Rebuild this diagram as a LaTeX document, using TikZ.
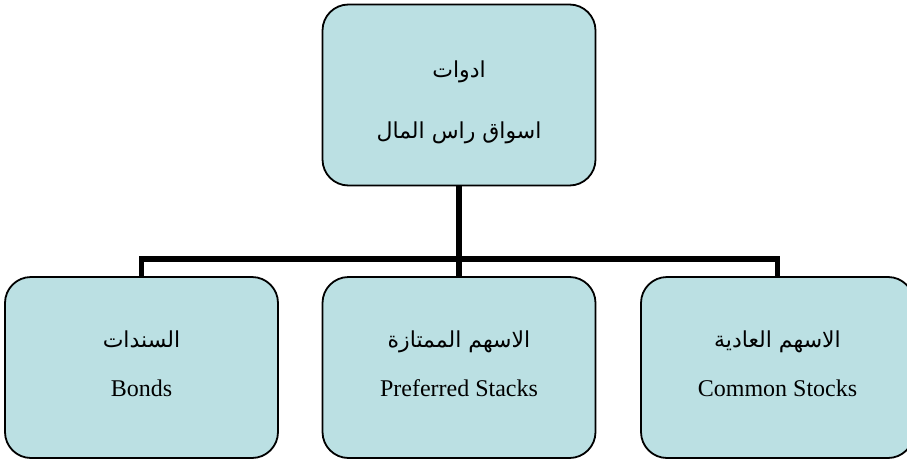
\documentclass[tikz,border=0pt]{standalone}
\usepackage{fontspec}
\setmainfont{Liberation Serif}
\newfontfamily\arabicfont[Script=Arabic]{DejaVu Sans}
\TeXXeTstate=1
% right-to-left Arabic run
\newcommand{\artext}[1]{{\arabicfont\beginR #1\endR}}
\definecolor{boxfill}{HTML}{BBE0E3}
\begin{document}
\begin{tikzpicture}[x=1pt,y=-1pt,
  box/.style={draw=black, line width=1.8pt, fill=boxfill, rounded corners=26pt,
    minimum width=273pt, minimum height=181pt, inner sep=0pt},
  arlabel/.style={anchor=base, inner sep=0pt, font=\fontsize{22}{26}\selectfont},
  enlabel/.style={anchor=base, inner sep=0pt, font=\fontsize{24}{29}\selectfont},
  link/.style={draw=black, line width=5.5pt, line join=miter}]
\useasboundingbox (0,0) rectangle (907,463);

% the root box and the three branches
\node[box] (root) at (459,95) {};
\node[box] (bonds) at (141.5,367.5) {};
\node[box] (pref) at (459,367.5) {};
\node[box] (common) at (777.5,367.5) {};

% box texts
\node[arlabel] (root1) at (459,77) {\artext{ادوات}};
\node[arlabel] (root2) at (459,138) {\artext{اسواق راس المال}};
\node[arlabel] (bonds1) at (141.5,347) {\artext{السندات}};
\node[enlabel] (bonds2) at (141.5,396) {Bonds};
\node[arlabel] (pref1) at (459,347) {\artext{الاسهم الممتازة}};
\node[enlabel] (pref2) at (459,396) {Preferred Stacks};
\node[arlabel] (common1) at (777.5,347) {\artext{الاسهم العادية}};
\node[enlabel] (common2) at (777.5,396) {Common Stocks};

% connector bus
\coordinate (bus) at (459,259);
\draw[link] (root.south) -- (pref.north);
\draw[link] (bonds.north) |- (bus) -| (common.north);
\end{tikzpicture}
\end{document}
